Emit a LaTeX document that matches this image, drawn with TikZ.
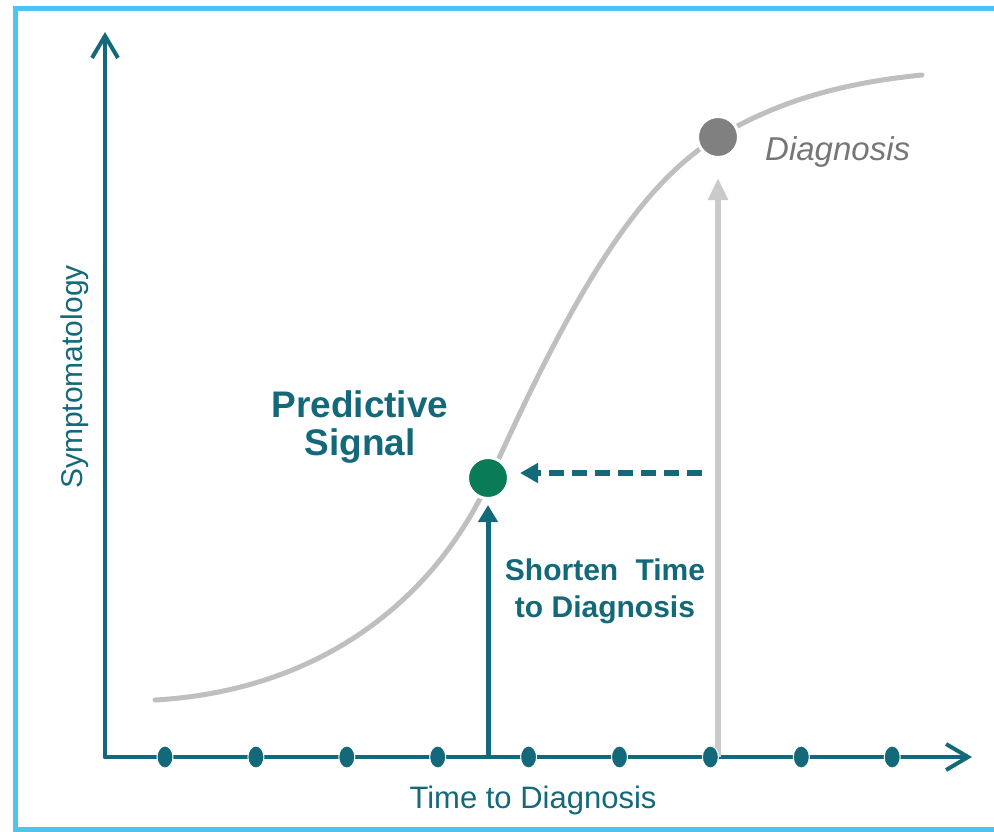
\documentclass[tikz,border=0pt]{standalone}
\usepackage{fontspec}
\setmainfont{Liberation Sans}
\usetikzlibrary{arrows.meta,shapes.geometric}
\definecolor{sigteal}{RGB}{19,105,122}
\definecolor{siggreen}{RGB}{10,123,87}
\definecolor{sigdot}{RGB}{128,128,128}
\definecolor{sigcurve}{RGB}{191,191,191}
\definecolor{sigarrow}{RGB}{202,202,202}
\definecolor{sigtext}{RGB}{118,118,118}
\definecolor{sigframe}{RGB}{79,195,240}

\begin{document}
\begin{tikzpicture}[x=1pt,y=-1pt,
  markdot/.style={circle,minimum size=41pt,inner sep=0pt,draw=white,line width=3pt},
  tdot/.style={ellipse,fill=sigteal,draw=white,line width=1pt,minimum width=16pt,minimum height=22pt,inner sep=0pt},
  axisline/.style={sigteal,line width=4pt,line cap=round,-{Straight Barb[length=22pt,width=26pt]}},
  bigtext/.style={sigteal,align=center,inner sep=0pt}]
\useasboundingbox (0,0) rectangle (994,831);

% Frame
\draw[sigframe,line width=5pt] (994,8.5) -- (15,8.5) -- (15,829.5) -- (994,829.5);

% Curve
\draw[sigcurve,line width=5pt,line cap=round] (155,700)
  .. controls (330,690) and (440,590) .. (490,478)
  .. controls (564,314) and (632,188) .. (718,137)
  .. controls (778,101) and (842,83) .. (922,75);

% Axes
\coordinate (origin) at (105,757);
\coordinate (xend) at (972,757);
\coordinate (yend) at (105,32);
\draw[axisline] (origin) -- (xend);
\draw[axisline] (origin) -- (yend);

% Points
\node[markdot,fill=siggreen] (signal) at (488,478) {};
\node[markdot,fill=sigdot] (diag) at (718,137) {};

% Grey arrow
\coordinate (diag0) at (718,757);
\draw[sigarrow,line width=6pt,-{Triangle[length=22pt,width=19pt]},shorten >=19pt] (diag0) -- (diag);

% Time points
\foreach \i in {1,...,9} {
    \node[tdot] (t\i) at ({165+90.9*(\i-1)},757) {};
}

% Teal arrows
\coordinate (sig0) at (488,759);
\draw[sigteal,line width=5pt,-{Triangle[length=17pt,width=19pt]},shorten >=5pt] (sig0) -- (signal);
\coordinate (dash0) at (702,473);
\draw[sigteal,line width=6pt,dash pattern=on 15pt off 8pt,-{Triangle[length=18pt,width=19pt]},shorten >=10pt] (dash0) -- (signal.east |- dash0);

% Labels
\node[sigteal,rotate=90,font=\fontsize{30}{36}\selectfont] (ylab) at (75,377) {Symptomatology};
\node[sigteal,anchor=base,font=\fontsize{31}{36}\selectfont] (xlab) at (533,808) {Time to Diagnosis};
\node[bigtext,font=\fontsize{37}{38}\selectfont\bfseries] (pred) at (360,427) {Predictive\\Signal};
\node[bigtext,font=\fontsize{30}{37}\selectfont\bfseries] (short) at (605,591) {Shorten\hspace{0.3em} Time\\to Diagnosis};
\node[sigtext,anchor=base west,inner sep=0pt,font=\fontsize{33}{40}\selectfont\itshape] (dlab) at (765,160) {Diagnosis};
\end{tikzpicture}
\end{document}
